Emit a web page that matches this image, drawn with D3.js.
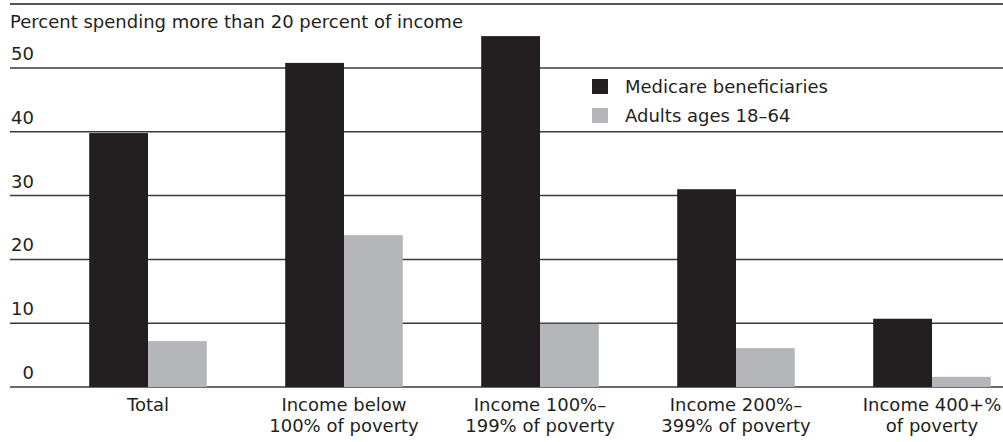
<script src="https://d3js.org/d3.v7.min.js"></script>
<style>
  body { margin: 0; background: #fff; }
  text { font-family: 'DejaVu Sans', sans-serif; fill: #231f20; }
</style>
<svg width="1003" height="442"></svg>
<script>
// chart data
var groups = ['Total', 'Income below\n100% of poverty', 'Income 100%\u2013\n199% of poverty',
  'Income 200%\u2013\n399% of poverty', 'Income 400+%\nof poverty'];
var series = ['Medicare beneficiaries', 'Adults ages 18\u201364'];
var medicare = [39.8, 50.8, 55.0, 31.0, 10.7];
var adults = [7.2, 23.8, 9.9, 6.1, 1.6];
var yTicks = [0, 10, 20, 30, 40, 50];
var colors = ['#231f20', '#b5b6b9'];

var svg = d3.select('svg');

var y = d3.scaleLinear().domain([0, 50]).range([387, 68]);

var x = d3.scaleBand()
  .domain(groups)
  .range([50, 1030])
  .paddingInner(0.4)
  .paddingOuter(0.2);

var x1 = d3.scaleBand()
  .domain(series)
  .range([0, x.bandwidth()]);

// top rule
svg.append('line')
  .attr('x1', 10).attr('x2', 1003)
  .attr('y1', 4).attr('y2', 4)
  .style('stroke', '#555').style('stroke-width', 2);

// axis title
svg.append('text')
  .attr('x', 10).attr('y', 28)
  .style('font-size', '18px')
  .text('Percent spending more than 20 percent of income');

// gridlines
svg.selectAll('.grid')
  .data(yTicks)
  .enter().append('line')
  .attr('class', 'grid')
  .attr('x1', 10).attr('x2', 1003)
  .attr('y1', function(d) { return y(d); })
  .attr('y2', function(d) { return y(d); })
  .style('stroke', '#3a3a3a')
  .style('stroke-width', 1.5);

svg.selectAll('.ytick')
  .data(yTicks)
  .enter().append('text')
  .attr('class', 'ytick')
  .attr('x', 34)
  .attr('y', function(d) { return y(d) - 8; })
  .attr('text-anchor', 'end')
  .style('font-size', '18px')
  .text(function(d) { return d; });

// bars
var rows = groups.map(function(g, i) {
  return { group: g, values: [medicare[i], adults[i]] };
});

var g = svg.selectAll('.group')
  .data(rows)
  .enter().append('g')
  .attr('transform', function(d) { return 'translate(' + x(d.group) + ',0)'; });

g.selectAll('rect')
  .data(function(d) { return d.values.map(function(v, j) { return { s: series[j], v: v, c: colors[j] }; }); })
  .enter().append('rect')
  .attr('x', function(d) { return x1(d.s); })
  .attr('width', x1.bandwidth())
  .attr('y', function(d) { return y(d.v); })
  .attr('height', function(d) { return y(0) - y(d.v); })
  .attr('fill', function(d) { return d.c; });

// category labels
svg.selectAll('.xlab')
  .data(groups)
  .enter().append('text')
  .attr('class', 'xlab')
  .attr('text-anchor', 'middle')
  .attr('x', function(d) { return x(d) + x.bandwidth() / 2; })
  .attr('y', 411)
  .style('font-size', '18px')
  .each(function(d) {
    var t = d3.select(this);
    d.split('\n').forEach(function(line, i) {
      t.append('tspan')
        .attr('x', x(d) + x.bandwidth() / 2)
        .attr('dy', i === 0 ? 0 : 21)
        .text(line);
    });
  });

// legend
var legend = svg.selectAll('.leg')
  .data(series)
  .enter().append('g')
  .attr('class', 'leg')
  .attr('transform', function(d, i) { return 'translate(592,' + (79 + i * 29) + ')'; });

legend.append('rect')
  .attr('width', 16).attr('height', 15)
  .attr('fill', function(d, i) { return colors[i]; });

legend.append('text')
  .attr('x', 33).attr('y', 14)
  .style('font-size', '18px')
  .text(function(d) { return d; });
</script>
